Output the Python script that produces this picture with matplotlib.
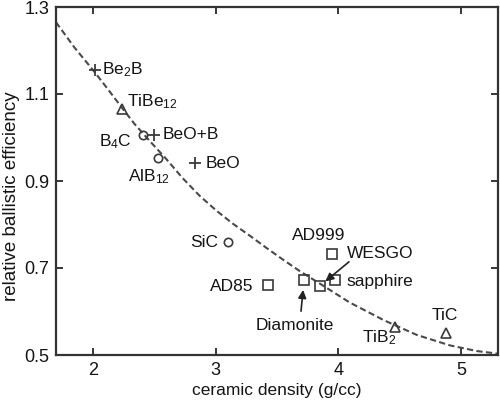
import matplotlib
matplotlib.use("Agg")
import matplotlib.pyplot as plt

plt.rcParams['font.family'] = ['Liberation Sans', 'DejaVu Sans']
plt.rcParams['mathtext.fontset'] = 'custom'
plt.rcParams['mathtext.rm'] = 'Liberation Sans'
plt.rcParams['mathtext.default'] = 'regular'

# ---- data ----
materials = ["Be$_2$B", "TiBe$_{12}$", "B$_4$C", "BeO+B", "AlB$_{12}$", "BeO", "SiC",
             "AD999", "WESGO", "sapphire", "AD85", "Diamonite", "TiB$_2$", "TiC"]
density = [2.02, 2.24, 2.41, 2.50, 2.53, 2.83, 3.10,
           3.95, 3.85, 3.97, 3.43, 3.72, 4.46, 4.88]
efficiency = [1.155, 1.066, 1.006, 1.006, 0.953, 0.941, 0.760,
              0.732, 0.659, 0.672, 0.661, 0.672, 0.564, 0.551]
kind = ["plus", "tri", "circ", "plus", "circ", "plus", "circ",
        "sq", "sq", "sq", "sq", "sq", "tri", "tri"]

curve_x = [1.70, 1.85, 2.01, 2.12, 2.23, 2.34, 2.46, 2.60, 2.73, 2.87, 3.01, 3.14,
           3.28, 3.41, 3.55, 3.69, 3.85, 4.09, 4.37, 4.64, 4.91, 5.13, 5.30]
curve_y = [1.265, 1.207, 1.152, 1.112, 1.071, 1.031, 0.993, 0.950, 0.907, 0.866, 0.831, 0.802,
           0.774, 0.747, 0.719, 0.692, 0.664, 0.621, 0.580, 0.546, 0.522, 0.509, 0.503]

xticks = [2, 3, 4, 5]
yticks = [0.5, 0.7, 0.9, 1.1, 1.3]

# ---- styles ----
marker_style = {
    "plus": dict(marker='+', ms=9, mew=1.3),
    "tri": dict(marker='^', ms=7, mew=1.2),
    "circ": dict(marker='o', ms=6, mew=1.2),
    "sq": dict(marker='s', ms=6.5, mew=1.2),
}
# label offsets in pixels (dx, dy) and alignment
label_pos = {
    "Be$_2$B": (7, 0, 'left'),
    "TiBe$_{12}$": (5, 7, 'left'),
    "B$_4$C": (-11, -7, 'right'),
    "BeO+B": (8, 0, 'left'),
    "AlB$_{12}$": (-30, -19, 'left'),
    "BeO": (11, 0, 'left'),
    "SiC": (-10, -1, 'right'),
    "AD999": (-40, 19, 'left'),
    "WESGO": (27, 32, 'left'),
    "sapphire": (12, -1, 'left'),
    "AD85": (-15, -2, 'right'),
    "Diamonite": (-9, -45, 'center'),
    "TiB$_2$": (-33, -10, 'left'),
    "TiC": (-15, 17, 'left'),
}
col = '#3a3a3a'
txtcol = '#151515'

fig = plt.figure(figsize=(5, 4), dpi=100)
ax = fig.add_axes([0.112, 0.1125, 0.884, 0.87])

ax.plot(curve_x, curve_y, color='#4a4a4a', lw=1.5, ls=(0, (3, 1.6)), zorder=2)

for name, x, y, k in zip(materials, density, efficiency, kind):
    ax.plot([x], [y], linestyle='none', mfc='none', mec=col, zorder=3, **marker_style[k])
    dx, dy, ha = label_pos[name]
    ax.annotate(name, (x, y), xytext=(dx, dy), textcoords='offset pixels',
                ha=ha, va='center', fontsize=12.5, color=txtcol)

# arrows
i_d = materials.index("Diamonite")
ax.annotate('', xy=(density[i_d], efficiency[i_d]), xytext=(-3, -31), textcoords='offset pixels',
            arrowprops=dict(arrowstyle='-|>', color='#222222', lw=1.2, shrinkA=0, shrinkB=7,
                            mutation_scale=12))
i_w = materials.index("WESGO")
ax.annotate('', xy=(density[i_w], efficiency[i_w]), xytext=(29, 24), textcoords='offset pixels',
            arrowprops=dict(arrowstyle='-|>', color='#222222', lw=1.2, shrinkA=0, shrinkB=5,
                            mutation_scale=12))

ax.set_xlim(1.7, 5.3)
ax.set_ylim(0.5, 1.3)
ax.set_xticks(xticks)
ax.set_yticks(yticks)
ax.set_yticklabels([f"{v:.1f}" for v in yticks])
ax.tick_params(direction='in', length=5, width=1.2, top=True, right=True,
               labelsize=13, colors=txtcol, pad=5)
for s in ax.spines.values():
    s.set_linewidth(1.6)
    s.set_color('#333333')
ax.set_xlabel("ceramic density (g/cc)", fontsize=12.5, color=txtcol, labelpad=3)
ax.set_ylabel("relative ballistic efficiency", fontsize=13.5, color=txtcol)
ax.yaxis.set_label_coords(-0.082, 0.455)

fig.savefig("out.png", dpi=100)
